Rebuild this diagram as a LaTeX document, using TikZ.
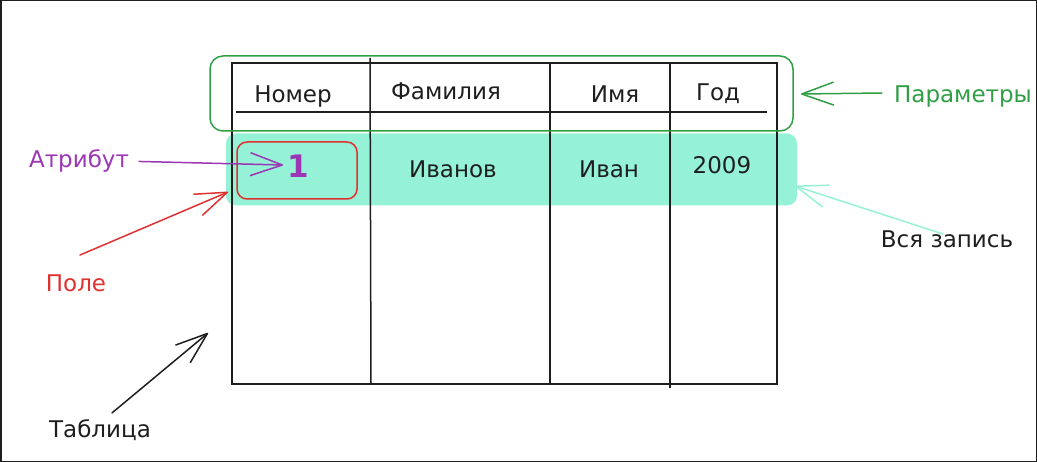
\documentclass[tikz,border=0pt]{standalone}
\usepackage{fontspec}
\setmainfont{DejaVu Sans}
\usetikzlibrary{arrows.meta}
\definecolor{ink}{HTML}{1E1E1E}
\definecolor{exgreen}{HTML}{2F9E44}
\definecolor{exred}{HTML}{E03131}
\definecolor{expurple}{HTML}{9C36B5}
\definecolor{exteal}{HTML}{96F2D7}
\begin{document}
\begin{tikzpicture}[x=1pt,y=-1pt,
  txt/.style={anchor=base, inner sep=0pt, font=\fontsize{23}{23}\selectfont},
  tline/.style={line width=1.5pt, draw=ink},
  sketcharrow/.style={line width=1.5pt, line cap=round, -{Straight Barb[length=32pt,width=23pt,line join=round]}},
]
\useasboundingbox (0,0) rectangle (1037,462);
\draw[ink, line width=1.5pt] (0.75,0.75) rectangle (1036.25,461.25);

% record highlight
\node[fill=exteal, rounded corners=10pt, minimum width=571pt, minimum height=72pt, inner sep=0pt] (record) at (511.5,169.5) {};

% table
\draw[tline] (232,63) rectangle (777,384);
\draw[tline] (370,58) -- (371,384);
\draw[tline] (550,63) -- (550,384);
\draw[tline] (670,63) -- (670,388);
\draw[tline] (236,112) -- (767,112);

% boxes
\node[draw=exgreen, line width=1.5pt, rounded corners=13pt, minimum width=583pt, minimum height=75pt, inner sep=0pt] (params) at (501.5,93.5) {};
\node[draw=exred, line width=1.5pt, rounded corners=10pt, minimum width=120pt, minimum height=57pt, inner sep=0pt] (field) at (297,170.5) {};

% header
\node[txt, ink] (h1) at (293,103) {Номер};
\node[txt, ink] (h2) at (446,100) {Фамилия};
\node[txt, ink] (h3) at (615,103) {Имя};
\node[txt, ink] (h4) at (718,101) {Год};

% row
\node[txt, expurple, font=\fontsize{31}{31}\selectfont\bfseries] (v1) at (298,178) {1};
\node[txt, ink] (v2) at (453,178) {Иванов};
\node[txt, ink] (v3) at (609,178) {Иван};
\node[txt, ink] (v4) at (722,174) {2009};

% labels
\node[txt, expurple] (attrlbl) at (79,168) {Атрибут};
\node[txt, exred] (polelbl) at (76,292) {Поле};
\node[txt, exgreen] (paramlbl) at (963,103) {Параметры};
\node[txt, ink] (reclbl) at (947,248) {Вся запись};
\node[txt, ink] (tablbl) at (100,438) {Таблица};

% arrow ends
\coordinate (attrtip) at (283,165);
\coordinate (poletip) at (228,192);
\coordinate (paramtip) at (801,94);
\coordinate (rectip) at (795,186);
\coordinate (tabtip) at (208,333);

\draw[sketcharrow, expurple] ([xshift=10pt]attrlbl.east) -- (attrtip);
\draw[sketcharrow, exred] ([shift={(4,-20)}]polelbl.north) -- (poletip);
\draw[sketcharrow, exgreen] ([shift={(-12,-4)}]paramlbl.west) -- (paramtip);
\draw[sketcharrow, exteal] ([shift={(-4,3)}]reclbl.north) -- (rectip);
\draw[sketcharrow, ink] ([shift={(12,-7)}]tablbl.north) -- (tabtip);
\end{tikzpicture}
\end{document}
